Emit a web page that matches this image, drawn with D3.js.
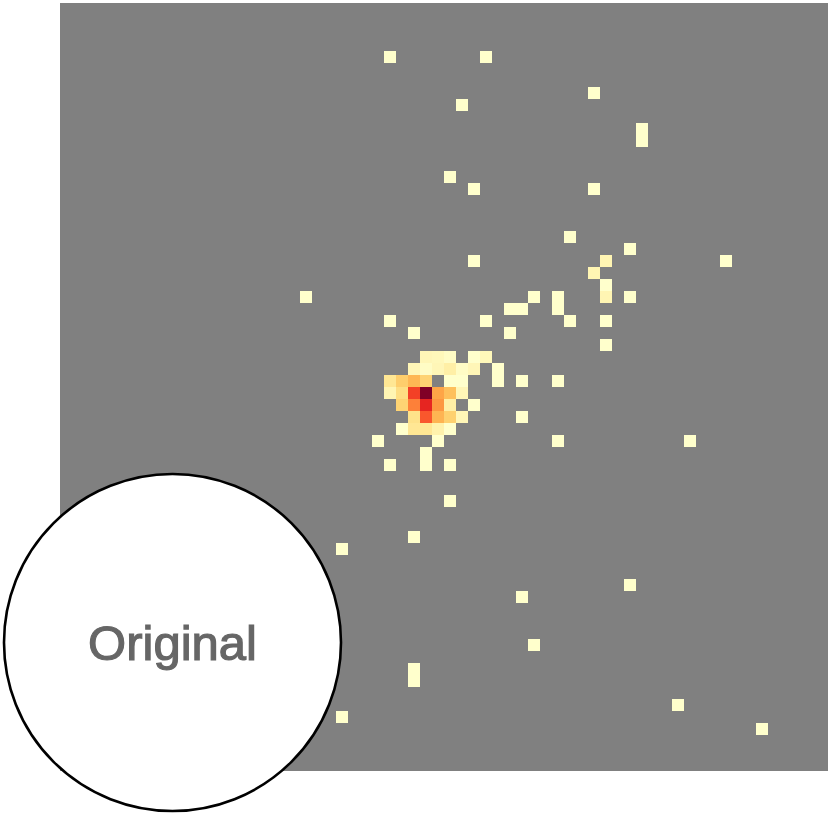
<!DOCTYPE html>
<html lang="en">
<head>
<meta charset="utf-8">
<title>Original</title>
<script src="https://cdnjs.cloudflare.com/ajax/libs/d3/7.8.5/d3.min.js"></script>
<style>
  html, body { margin: 0; padding: 0; background: #fff; overflow: hidden; }
  svg { display: block; }
</style>
</head>
<body>
<svg id="chart" width="828" height="814"></svg>
<script>
// grid cells: column, row, density (0-100)
const cell_cols = [27,35,44,33,48,48,32,34,44,42,47,45,34,55,44,45,45,39,41,41,47,20,37,38,42,45,35,27,29,37,45,
  30,31,32,34,35,
  29,30,31,32,33,34,36,
  27,28,29,30,32,33,36,38,41,
  27,28,29,30,31,32,33,
  28,29,30,31,32,34,
  29,30,31,32,33,38,
  28,29,30,31,32,
  26,31,41,52,
  30,27,30,32,32,29,23,47,38,39,29,29,23,51,58];
const cell_rows = [4,4,7,8,10,11,14,15,15,19,20,21,21,21,22,23,24,24,24,25,24,24,25,25,26,26,26,26,27,27,28,
  29,29,29,29,29,
  30,30,30,30,30,30,30,
  31,31,31,31,31,31,31,31,31,
  32,32,32,32,32,32,32,
  33,33,33,33,33,33,
  34,34,34,34,34,34,
  35,35,35,35,35,
  36,36,36,36,
  37,38,38,38,41,44,45,48,49,53,55,56,59,58,60];
const cell_values = [0,0,0,0,0,0,0,0,0,0,0,7,0,0,7,0,7,0,0,0,0,0,0,0,0,0,0,0,0,0,0,
  6,5,2,0,5,
  6,2,6,11,2,6,0,
  16,28,36,26,0,0,0,0,0,
  7,21,66,100,42,33,6,
  26,52,73,46,11,0,
  19,61,37,27,6,0,
  0,16,16,9,0,
  0,0,0,0,
  0,0,0,0,0,0,0,0,0,0,0,0,0,0,0];

const n_cells = 64;
const circle_label = "Original";

const svg = d3.select("#chart");

const x = d3.scaleBand().domain(d3.range(n_cells)).range([60, 828]);
const y = d3.scaleBand().domain(d3.range(n_cells)).range([3, 771]);
const fill = d3.scaleSequential(d3.interpolateYlOrRd).domain([0, 100]);

svg.append("rect")
  .attr("x", x.range()[0])
  .attr("y", y.range()[0])
  .attr("width", x.range()[1] - x.range()[0])
  .attr("height", y.range()[1] - y.range()[0])
  .attr("fill", "#808080");

svg.append("g")
  .selectAll("rect")
  .data(cell_values)
  .join("rect")
  .attr("x", (d, i) => x(cell_cols[i]))
  .attr("y", (d, i) => y(cell_rows[i]))
  .attr("width", x.bandwidth())
  .attr("height", y.bandwidth())
  .attr("fill", d => fill(d));

// inset label
svg.append("circle")
  .attr("cx", 172.5)
  .attr("cy", 642.5)
  .attr("r", 168.5)
  .attr("fill", "#fff")
  .attr("stroke", "#000")
  .attr("stroke-width", 2.6);

svg.append("text")
  .attr("x", 172.5)
  .attr("y", 660)
  .attr("text-anchor", "middle")
  .attr("font-family", "'Liberation Sans', sans-serif")
  .attr("font-size", 49)
  .attr("fill", "#666")
  .attr("stroke", "#666")
  .attr("stroke-width", 1.2)
  .text(circle_label);
</script>
</body>
</html>
